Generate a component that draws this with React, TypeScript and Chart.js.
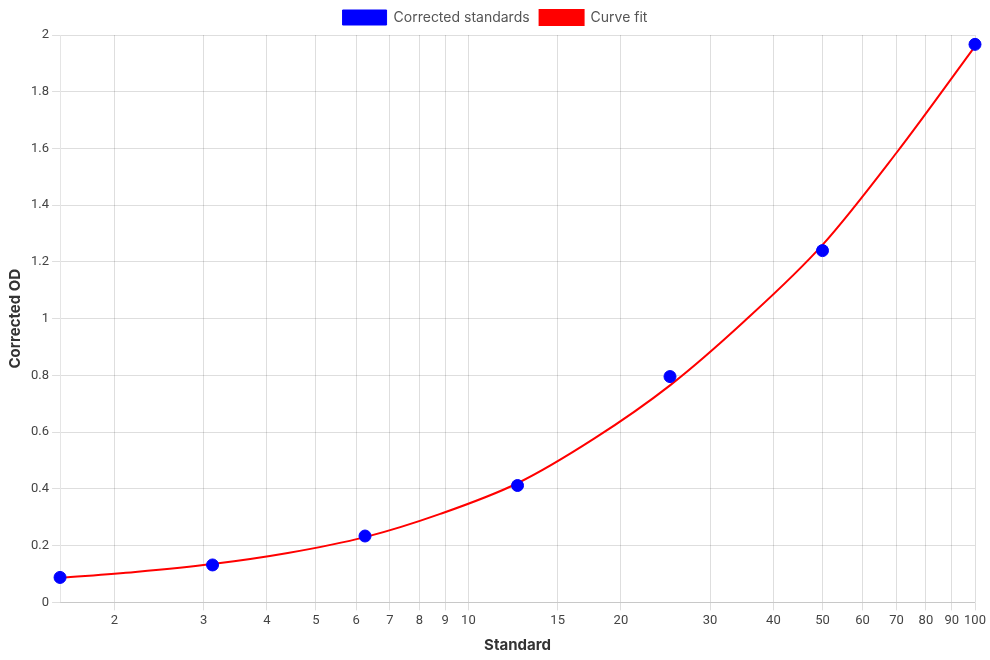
import React, { useEffect, useRef } from "react";
import { Chart, registerables } from "chart.js";

Chart.register(...registerables);

const standards = [1.5625, 3.125, 6.25, 12.5, 25, 50, 100];
const correctedOD = [0.088, 0.132, 0.234, 0.412, 0.796, 1.24, 1.967];

const fitX = [1.5625, 2.2, 3.125, 4.4, 6.25, 8.8, 12.5, 17.7, 25, 35, 50, 70, 100];
const fitY = [0.086, 0.107, 0.135, 0.174, 0.23, 0.312, 0.42, 0.577, 0.765, 0.99, 1.26, 1.585, 1.96];

const seriesLabels = ["Corrected standards", "Curve fit"];
const xTitle = "Standard";
const yTitle = "Corrected OD";

export default function App() {
  const ref = useRef<HTMLCanvasElement | null>(null);
  useEffect(() => {
    document.body.style.margin = "0";
    const ctx = ref.current!;
    const chart = new Chart(ctx, {
      type: "scatter",
      data: {
        datasets: [
          {
            label: seriesLabels[0],
            data: standards.map((x, i) => ({ x, y: correctedOD[i] })),
            backgroundColor: "#0000ff",
            borderColor: "#0000ff",
            pointRadius: 6,
            pointHoverRadius: 6,
            order: 0,
          },
          {
            label: seriesLabels[1],
            type: "line",
            data: fitX.map((x, i) => ({ x, y: fitY[i] })),
            backgroundColor: "#ff0000",
            borderColor: "#ff0000",
            borderWidth: 2,
            pointRadius: 0,
            cubicInterpolationMode: "monotone",
            fill: false,
            order: 1,
          } as any,
        ],
      },
      options: {
        responsive: true,
        maintainAspectRatio: false,
        animation: false,
        layout: { padding: { left: 2, right: 2, bottom: 2 } },
        plugins: {
          legend: {
            position: "top",
            labels: {
              font: { family: "Inter", size: 14 },
              color: "#555",
              boxWidth: 44,
              boxHeight: 15,
            },
          },
          tooltip: { enabled: false },
        },
        scales: {
          x: {
            type: "logarithmic",
            afterFit: (s: any) => {
              s.paddingRight = 15;
            },
            grid: { color: "rgba(0,0,0,0.13)" },
            title: {
              display: true,
              text: xTitle,
              font: { family: "Inter", size: 15, weight: "bold" },
              color: "#333",
            },
            ticks: {
              autoSkip: false,
              maxRotation: 0,
              font: { family: "Roboto", size: 13 },
              color: "#444",
              callback: (v: any) => String(v),
            },
          },
          y: {
            min: 0,
            max: 2,
            grid: { color: "rgba(0,0,0,0.13)" },
            title: {
              display: true,
              text: yTitle,
              font: { family: "Inter", size: 15, weight: "bold" },
              color: "#333",
            },
            ticks: {
              stepSize: 0.2,
              font: { family: "Roboto", size: 13 },
              color: "#444",
              callback: (v: any) => String(Math.round(Number(v) * 10) / 10),
            },
          },
        },
      } as any,
    });
    return () => chart.destroy();
  }, []);
  return (
    <div style={{ width: 990, height: 660, position: "relative" }}>
      <canvas ref={ref} />
    </div>
  );
}
